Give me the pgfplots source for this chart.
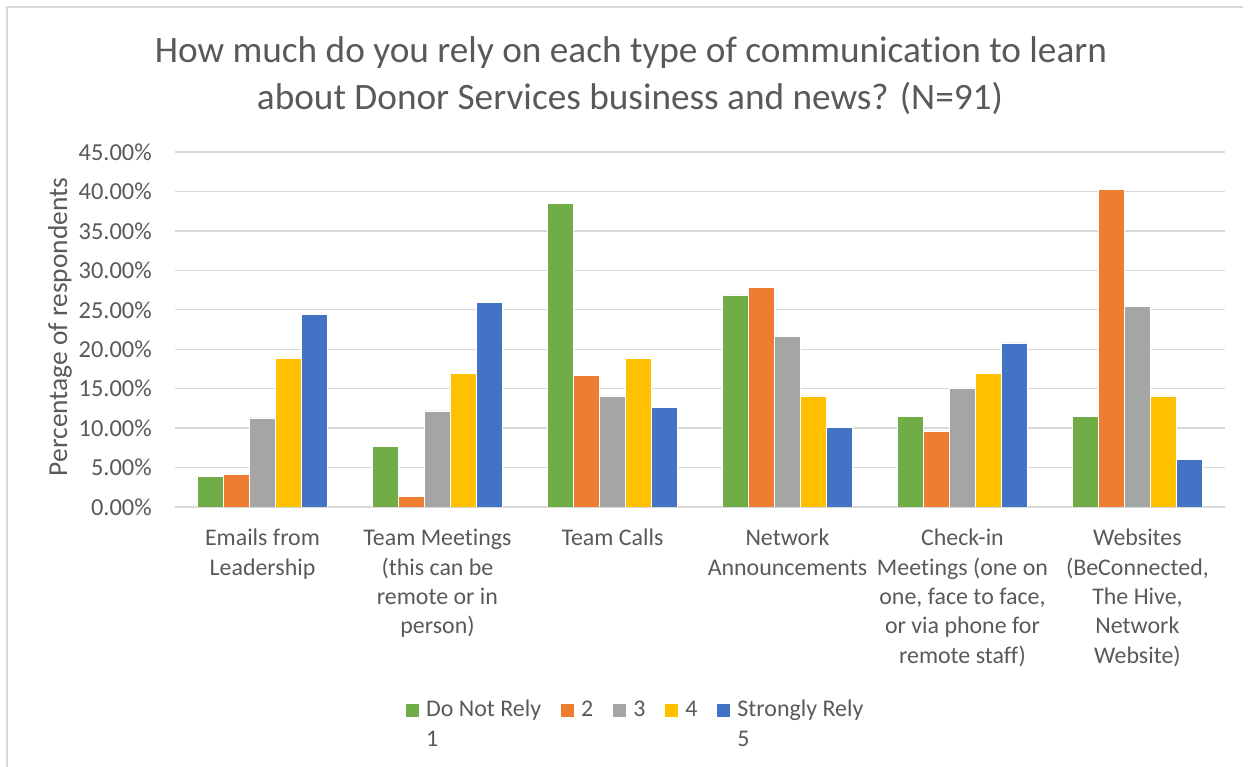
\documentclass[border=0pt]{standalone}
\usepackage{fontspec}
\setmainfont{Carlito}[Ligatures=NoCommon]
\usepackage{pgfplots}
\pgfplotsset{compat=1.18}
\definecolor{cgreen}{HTML}{70AD47}
\definecolor{corange}{HTML}{ED7D31}
\definecolor{cgray}{HTML}{A5A5A5}
\definecolor{cyellow}{HTML}{FFC000}
\definecolor{cblue}{HTML}{4472C4}
\definecolor{txt}{HTML}{595959}
\definecolor{gridc}{HTML}{D9D9D9}
\begin{document}
\begin{tikzpicture}
\path[use as bounding box] (0bp,0bp) rectangle (1253bp,767bp);
\draw[gridc, line width=1.5bp] (7bp,0bp) -- (7bp,760bp) -- (1243bp,760bp);
\node[anchor=base, text=txt, inner sep=0pt, font=\fontsize{37.4}{44}\selectfont] at (631bp,704.3bp) {How much do you rely on each type of communication to learn};
\node[anchor=base, text=txt, inner sep=0pt, font=\fontsize{37.4}{44}\selectfont] at (630bp,657bp) {about Donor Services business and news? (N=91)};
\node[rotate=90, text=txt, inner sep=0pt, font=\fontsize{27.5}{32}\selectfont] at (60bp,440bp) {Percentage of respondents};
\begin{axis}[
  at={(175bp,260bp)}, anchor=south west,
  scale only axis, width=1050bp, height=355bp,
  ybar=0pt, bar width=26bp,
  xmin=-0.5, xmax=5.5, ymin=0, ymax=45,
  xtick={0,1,2,3,4,5},
  xticklabels={{Emails from\\Leadership},{Team Meetings\\(this can be\\remote or in\\person)},{Team Calls},{Network\\Announcements},{Check-in\\Meetings (one on\\one, face to face,\\or via phone for\\remote staff)},{Websites\\(BeConnected,\\The Hive,\\Network\\Website)}},
  xticklabel style={align=center, anchor=north, inner sep=0pt, yshift=-22bp, text=txt, font=\fontsize{24}{29.5}\selectfont},
  ytick={0,5,10,15,20,25,30,35,40,45},
  yticklabels={0.00\%,5.00\%,10.00\%,15.00\%,20.00\%,25.00\%,30.00\%,35.00\%,40.00\%,45.00\%},
  yticklabel style={anchor=east, inner sep=0pt, xshift=-23bp, text=txt, font=\fontsize{24.5}{29}\selectfont},
  major tick length=0pt,
  axis line style={draw=none},
  ymajorgrids, grid style={gridc, line width=1.3bp},
  legend columns=5,
  legend style={at={(0.22,-0.5296)}, anchor=north west, draw=none, fill=none, inner sep=0pt,
    font=\fontsize{24}{30}\selectfont, text=txt,
    cells={anchor=base west},
    nodes={inner sep=0pt, text depth=0pt},
    /tikz/every odd column/.append style={column sep=7bp},
    /tikz/every even column/.append style={column sep=20bp}},
  legend image code/.code={\fill[#1, draw=none] (0bp,-1bp) rectangle (13bp,12bp);},
]
\addplot[fill=cgreen, draw=white, line width=0.5bp] coordinates {(0,3.85) (1,7.69) (2,38.46) (3,26.9) (4,11.5) (5,11.5)};
\addplot[fill=corange, draw=white, line width=0.5bp] coordinates {(0,4.17) (1,1.3) (2,16.67) (3,27.8) (4,9.65) (5,40.25)};
\addplot[fill=cgray, draw=white, line width=0.5bp] coordinates {(0,11.3) (1,12.2) (2,14.1) (3,21.6) (4,15.1) (5,25.4)};
\addplot[fill=cyellow, draw=white, line width=0.5bp] coordinates {(0,18.9) (1,16.9) (2,18.9) (3,14.1) (4,16.9) (5,14.1)};
\addplot[fill=cblue, draw=white, line width=0.5bp] coordinates {(0,24.4) (1,25.9) (2,12.65) (3,10.1) (4,20.8) (5,6.0)};
\legend{{\begin{tabular}[t]{@{}l@{}}Do Not Rely\\1\end{tabular}},2,3,4,{\begin{tabular}[t]{@{}l@{}}Strongly Rely\\5\end{tabular}}}
\end{axis}
\end{tikzpicture}
\end{document}
